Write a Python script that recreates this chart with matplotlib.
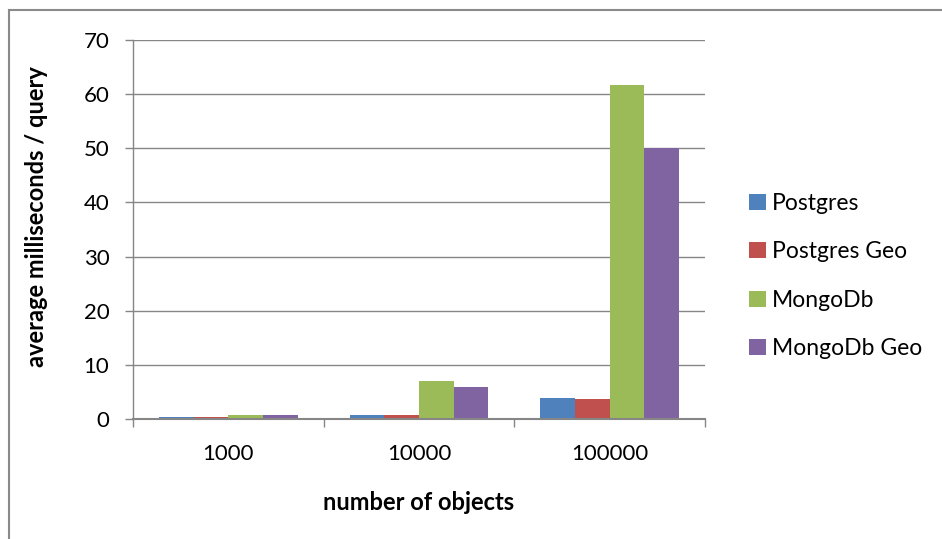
import matplotlib.pyplot as plt
import numpy as np
from matplotlib.lines import Line2D

plt.rcParams['font.family'] = ['Lato', 'DejaVu Sans']

categories = ['1000', '10000', '100000']
series = ['Postgres', 'Postgres Geo', 'MongoDb', 'MongoDb Geo']
postgres = [0.4, 0.7, 3.8]
postgres_geo = [0.4, 0.8, 3.7]
mongodb = [0.8, 7.0, 61.6]
mongodb_geo = [0.7, 5.9, 50.1]
colors = ['#4F81BD', '#C0504D', '#9BBB59', '#8064A2']

values = [postgres, postgres_geo, mongodb, mongodb_geo]

W, H = 942, 539
fig = plt.figure(figsize=(W / 100, H / 100), dpi=100)
ax = fig.add_axes([133 / W, 1 - 419 / H, 572 / W, 379 / H])

x = np.arange(len(categories))
w = 1 / 5.5
for i, (name, vals) in enumerate(zip(series, values)):
    ax.bar(x + (i - 1.5) * w, vals, width=w, color=colors[i], label=name, zorder=3)

grid_c = '#868686'
ax.set_xlim(-0.5, len(categories) - 0.5)
ax.set_ylim(0, 70)
ax.set_yticks(range(0, 71, 10))
ax.yaxis.grid(True, color=grid_c, linewidth=1, zorder=0)
ax.set_xticks(np.arange(-0.5, len(categories), 1.0))
ax.set_xticklabels([])
ax.set_xticks(x, minor=True)
ax.set_xticklabels(categories, minor=True)
ax.tick_params(axis='x', which='major', direction='out', length=6, color=grid_c, width=1)
ax.tick_params(axis='x', which='minor', length=0, pad=18, labelsize=16)
ax.tick_params(axis='y', direction='out', length=6, color=grid_c, width=1, labelsize=16, pad=11)

for s in ['top', 'right']:
    ax.spines[s].set_visible(False)
ax.spines['left'].set_color(grid_c)
ax.spines['bottom'].set_color(grid_c)
ax.spines['bottom'].set_linewidth(1.5)
ax.spines['left'].set_linewidth(1)
ax.spines['bottom'].set_zorder(4)

fig.text(419 / W, 1 - 502 / H, 'number of objects', fontsize=17, fontweight='bold',
         ha='center', va='center')
fig.text(37 / W, 1 - 217 / H, 'average milliseconds / query', fontsize=17, fontweight='bold',
         ha='center', va='center', rotation=90)

ax.legend(loc='center left', bbox_to_anchor=(738 / W, 1 - 276 / H), bbox_transform=fig.transFigure,
          frameon=False, fontsize=16.5, handlelength=0.7, handleheight=0.7, handletextpad=0.3,
          labelspacing=1.2, borderpad=0)

# outer chart frame
fig.add_artist(Line2D([9 / W, 1], [1 - 10 / H] * 2, color='#8a8a8a', lw=1.5, transform=fig.transFigure))
fig.add_artist(Line2D([9 / W] * 2, [0, 1 - 10 / H], color='#8a8a8a', lw=1.5, transform=fig.transFigure))

fig.savefig('out.png', dpi=100)
